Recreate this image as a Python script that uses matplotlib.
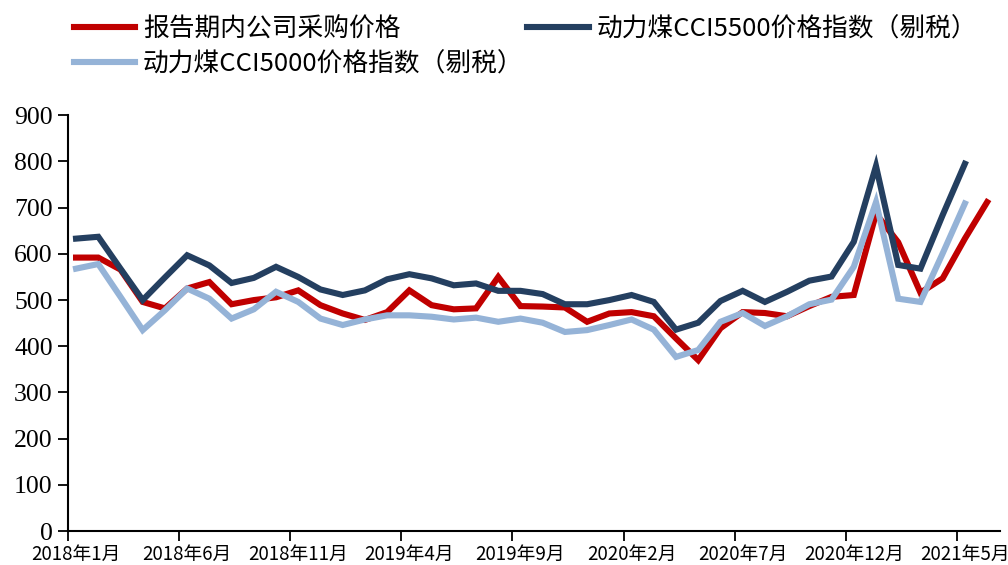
import matplotlib
matplotlib.use("Agg")
import matplotlib.pyplot as plt
import numpy as np

# 2018-01 ~ 2021-06, 月度
months = [f"{2018 + (k // 12)}年{k % 12 + 1}月" for k in range(42)]

purchase = [592, 592, 566, 496, 482, 525, 539, 491, 500, 506,
            521, 489, 471, 457, 474, 521, 489, 480, 482, 550,
            487, 486, 484, 453, 471, 474, 465, 417, 370, 439,
            474, 472, 465, 487, 507, 511, 687, 625, 516, 547,
            633, 712]
cci5500 = [633, 637, 568, 500, 549, 597, 575, 537, 548, 572,
           550, 523, 511, 521, 545, 556, 547, 532, 536, 520,
           520, 513, 491, 491, 500, 511, 496, 436, 451, 498,
           520, 496, 518, 542, 551, 626, 790, 576, 568, 684,
           795]
cci5000 = [568, 578, 507, 435, 478, 525, 503, 460, 480, 518,
           496, 460, 446, 458, 467, 467, 464, 458, 462, 453,
           460, 451, 431, 435, 446, 458, 436, 377, 392, 453,
           472, 444, 465, 491, 501, 572, 712, 503, 496, 601,
           709]

c_red = "#C00000"
c_dark = "#243F60"
c_light = "#95B3D7"
cjk = ["Noto Sans CJK SC", "DejaVu Sans"]

fig = plt.figure(figsize=(10.08, 5.65), dpi=100)
ax = fig.add_axes([0.0675, 0.060, 0.925, 0.736])

lw = 4.4
l1, = ax.plot(range(len(purchase)), purchase, color=c_red, lw=lw,
              solid_joinstyle="miter", label="报告期内公司采购价格")
l3, = ax.plot(range(len(cci5000)), cci5000, color=c_light, lw=lw,
              solid_joinstyle="miter", label="动力煤CCI5000价格指数（剔税）")
l2, = ax.plot(range(len(cci5500)), cci5500, color=c_dark, lw=lw,
              solid_joinstyle="miter", label="动力煤CCI5500价格指数（剔税）")

ax.set_ylim(0, 900)
ax.set_yticks(range(0, 901, 100))
ax.set_xlim(-0.36, 41.6)

# 标签放在月份上，刻度线略偏左
ax.set_xticks(range(0, 42, 5))
ax.set_xticklabels(months[::5], fontfamily=cjk, fontsize=13.5)
ax.tick_params(axis="x", which="major", length=0, pad=9)
ax.set_xticks(np.arange(0, 42, 5) - 0.36, minor=True)
ax.tick_params(axis="x", which="minor", length=7, width=1.3, direction="out")

ax.tick_params(axis="y", length=7, width=1.3, direction="out", pad=4)
for t in ax.get_yticklabels():
    t.set_fontfamily("Liberation Serif")
    t.set_fontsize(18.5)

for s in ["top", "right"]:
    ax.spines[s].set_visible(False)
for s in ["left", "bottom"]:
    ax.spines[s].set_linewidth(1.5)
    ax.spines[s].set_color("black")

fig.legend(handles=[l1, l3, l2], loc="upper left", ncol=2,
           bbox_to_anchor=(0.05, 1.012), frameon=False,
           prop={"family": cjk, "size": 18.5},
           handlelength=2.4, handletextpad=0.3, columnspacing=0.15,
           labelspacing=0.35)

fig.savefig("out.png", dpi=100)
